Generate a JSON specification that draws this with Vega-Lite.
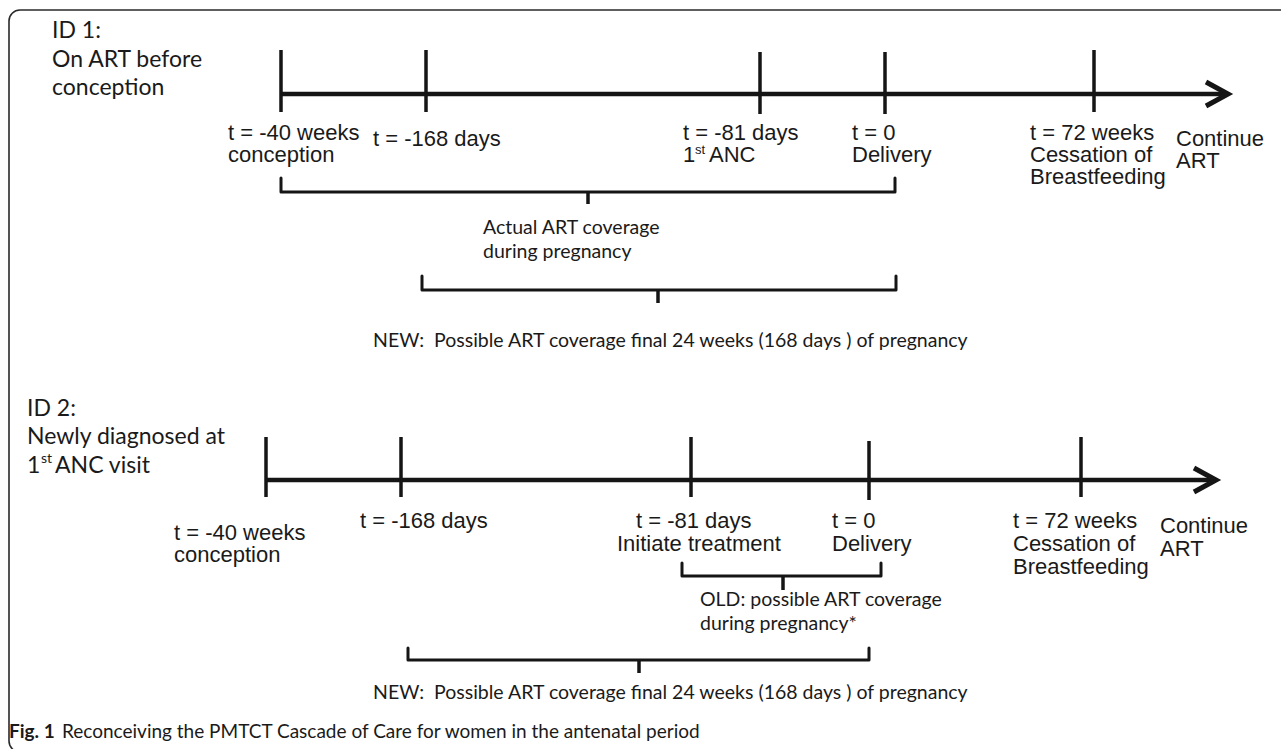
{
  "$schema": "https://vega.github.io/schema/vega-lite/v6.json",
  "width": 1281,
  "height": 749,
  "autosize": {"type": "fit", "contains": "padding"},
  "padding": 0,
  "background": "white",
  "config": {"view": {"stroke": null}},
  "datasets": {
    "border": [{"x": 9, "x2": 1300, "y": 10, "y2": 752}],
    "axisLines": [
      {"x": 281, "x2": 1224, "y": 94, "y2": 94},
      {"x": 266, "x2": 1212, "y": 480, "y2": 480}
    ],
    "ticks": [
      {"x": 281, "x2": 281, "y": 50, "y2": 112},
      {"x": 426, "x2": 426, "y": 50, "y2": 112},
      {"x": 760, "x2": 760, "y": 52, "y2": 114},
      {"x": 885, "x2": 885, "y": 52, "y2": 114},
      {"x": 1094, "x2": 1094, "y": 50, "y2": 112},
      {"x": 266, "x2": 266, "y": 437, "y2": 497},
      {"x": 401, "x2": 401, "y": 437, "y2": 497},
      {"x": 691, "x2": 691, "y": 437, "y2": 497},
      {"x": 869, "x2": 869, "y": 441, "y2": 500},
      {"x": 1081, "x2": 1081, "y": 437, "y2": 497}
    ],
    "chevrons": [
      {"g": "c1", "o": 1, "x": 1206, "y": 82},
      {"g": "c1", "o": 2, "x": 1228, "y": 94},
      {"g": "c1", "o": 3, "x": 1206, "y": 106},
      {"g": "c2", "o": 1, "x": 1194, "y": 468},
      {"g": "c2", "o": 2, "x": 1216, "y": 480},
      {"g": "c2", "o": 3, "x": 1194, "y": 492}
    ],
    "brackets": [
      {"g": "A", "o": 1, "x": 281, "y": 178},
      {"g": "A", "o": 2, "x": 281, "y": 192},
      {"g": "A", "o": 3, "x": 895, "y": 192},
      {"g": "A", "o": 4, "x": 895, "y": 178},
      {"g": "B", "o": 1, "x": 422, "y": 276},
      {"g": "B", "o": 2, "x": 422, "y": 290},
      {"g": "B", "o": 3, "x": 896, "y": 290},
      {"g": "B", "o": 4, "x": 896, "y": 276},
      {"g": "C", "o": 1, "x": 682, "y": 563},
      {"g": "C", "o": 2, "x": 682, "y": 576},
      {"g": "C", "o": 3, "x": 881, "y": 576},
      {"g": "C", "o": 4, "x": 881, "y": 563},
      {"g": "D", "o": 1, "x": 408, "y": 648},
      {"g": "D", "o": 2, "x": 408, "y": 660},
      {"g": "D", "o": 3, "x": 869, "y": 660},
      {"g": "D", "o": 4, "x": 869, "y": 648}
    ],
    "notches": [
      {"x": 588, "x2": 588, "y": 192, "y2": 204},
      {"x": 658, "x2": 658, "y": 290, "y2": 303},
      {"x": 783, "x2": 783, "y": 576, "y2": 590},
      {"x": 639, "x2": 639, "y": 660, "y2": 673}
    ],
    "arial": [
      {"x": 228, "y": 140, "t": "t = -40 weeks"},
      {"x": 228, "y": 162, "t": "conception"},
      {"x": 373, "y": 146, "t": "t = -168 days"},
      {"x": 683, "y": 140, "t": "t = -81 days"},
      {"x": 683, "y": 162, "t": "1"},
      {"x": 709, "y": 162, "t": "ANC"},
      {"x": 852, "y": 140, "t": "t = 0"},
      {"x": 852, "y": 162, "t": "Delivery"},
      {"x": 1030, "y": 140, "t": "t = 72 weeks"},
      {"x": 1030, "y": 162, "t": "Cessation of"},
      {"x": 1030, "y": 184, "t": "Breastfeeding"},
      {"x": 1176, "y": 146, "t": "Continue"},
      {"x": 1176, "y": 168, "t": "ART"},
      {"x": 174, "y": 540, "t": "t = -40 weeks"},
      {"x": 174, "y": 562, "t": "conception"},
      {"x": 360, "y": 528, "t": "t = -168 days"},
      {"x": 636, "y": 528, "t": "t = -81 days"},
      {"x": 617, "y": 551, "t": "Initiate treatment"},
      {"x": 832, "y": 528, "t": "t = 0"},
      {"x": 832, "y": 551, "t": "Delivery"},
      {"x": 1013, "y": 528, "t": "t = 72 weeks"},
      {"x": 1013, "y": 551, "t": "Cessation of"},
      {"x": 1013, "y": 574, "t": "Breastfeeding"},
      {"x": 1160, "y": 533, "t": "Continue"},
      {"x": 1160, "y": 556, "t": "ART"}
    ],
    "arialSup": [
      {"x": 695, "y": 154, "t": "st"}
    ],
    "bigLabels": [
      {"x": 52, "y": 38, "t": "ID 1:"},
      {"x": 52, "y": 67, "t": "On ART before"},
      {"x": 52, "y": 95, "t": "conception"},
      {"x": 27, "y": 416, "t": "ID 2:"},
      {"x": 27, "y": 444, "t": "Newly diagnosed at"},
      {"x": 27, "y": 473, "t": "1"},
      {"x": 55, "y": 473, "t": "ANC visit"}
    ],
    "bigSup": [
      {"x": 41, "y": 463, "t": "st"}
    ],
    "midLabels": [
      {"x": 483, "y": 234, "t": "Actual ART coverage"},
      {"x": 483, "y": 258, "t": "during pregnancy"},
      {"x": 373, "y": 347, "t": "NEW:\u00a0 Possible ART coverage final 24 weeks (168 days ) of pregnancy"},
      {"x": 700, "y": 606, "t": "OLD: possible ART coverage"},
      {"x": 700, "y": 630, "t": "during pregnancy*"},
      {"x": 373, "y": 699, "t": "NEW:\u00a0 Possible ART coverage final 24 weeks (168 days ) of pregnancy"}
    ],
    "capBold": [
      {"x": 9, "y": 738, "t": "Fig. 1"}
    ],
    "cap": [
      {"x": 62, "y": 738, "t": "Reconceiving the PMTCT Cascade of Care for women in the antenatal period"}
    ]
  },
  "encoding": {
    "x": {"field": "x", "type": "quantitative", "scale": {"domain": [0, 1281], "nice": false, "zero": false}, "axis": null},
    "y": {"field": "y", "type": "quantitative", "scale": {"domain": [0, 749], "nice": false, "zero": false, "reverse": true}, "axis": null}
  },
  "layer": [
    {
      "data": {"name": "border"},
      "mark": {"type": "rect", "fill": null, "fillOpacity": 0, "stroke": "#2a2a2a", "strokeWidth": 1.6, "cornerRadius": 11, "clip": true},
      "encoding": {"x2": {"field": "x2"}, "y2": {"field": "y2"}}
    },
    {
      "data": {"name": "axisLines"},
      "mark": {"type": "rule", "stroke": "#151515", "strokeWidth": 4.5},
      "encoding": {"x2": {"field": "x2"}, "y2": {"field": "y2"}}
    },
    {
      "data": {"name": "ticks"},
      "mark": {"type": "rule", "stroke": "#151515", "strokeWidth": 3.5},
      "encoding": {"x2": {"field": "x2"}, "y2": {"field": "y2"}}
    },
    {
      "data": {"name": "chevrons"},
      "mark": {"type": "line", "stroke": "#151515", "strokeWidth": 5, "strokeJoin": "miter", "strokeCap": "butt"},
      "encoding": {"detail": {"field": "g"}, "order": {"field": "o", "type": "quantitative"}}
    },
    {
      "data": {"name": "brackets"},
      "mark": {"type": "line", "stroke": "#151515", "strokeWidth": 3, "strokeJoin": "round", "strokeCap": "round", "interpolate": "linear"},
      "encoding": {"detail": {"field": "g"}, "order": {"field": "o", "type": "quantitative"}}
    },
    {
      "data": {"name": "notches"},
      "mark": {"type": "rule", "stroke": "#151515", "strokeWidth": 3.5},
      "encoding": {"x2": {"field": "x2"}, "y2": {"field": "y2"}}
    },
    {
      "data": {"name": "arial"},
      "mark": {"type": "text", "font": "Liberation Sans", "fontSize": 22, "align": "left", "baseline": "alphabetic", "color": "#1a1a1a"},
      "encoding": {"text": {"field": "t"}}
    },
    {
      "data": {"name": "arialSup"},
      "mark": {"type": "text", "font": "Liberation Sans", "fontSize": 13, "align": "left", "baseline": "alphabetic", "color": "#1a1a1a"},
      "encoding": {"text": {"field": "t"}}
    },
    {
      "data": {"name": "bigLabels"},
      "mark": {"type": "text", "font": "Lato", "fontSize": 23, "align": "left", "baseline": "alphabetic", "color": "#1a1a1a"},
      "encoding": {"text": {"field": "t"}}
    },
    {
      "data": {"name": "bigSup"},
      "mark": {"type": "text", "font": "Lato", "fontSize": 14, "align": "left", "baseline": "alphabetic", "color": "#1a1a1a"},
      "encoding": {"text": {"field": "t"}}
    },
    {
      "data": {"name": "midLabels"},
      "mark": {"type": "text", "font": "Lato", "fontSize": 19.5, "align": "left", "baseline": "alphabetic", "color": "#1a1a1a"},
      "encoding": {"text": {"field": "t"}}
    },
    {
      "data": {"name": "capBold"},
      "mark": {"type": "text", "font": "Lato", "fontSize": 19, "fontWeight": "bold", "align": "left", "baseline": "alphabetic", "color": "#1a1a1a"},
      "encoding": {"text": {"field": "t"}}
    },
    {
      "data": {"name": "cap"},
      "mark": {"type": "text", "font": "Lato", "fontSize": 19, "align": "left", "baseline": "alphabetic", "color": "#1a1a1a"},
      "encoding": {"text": {"field": "t"}}
    }
  ]
}
